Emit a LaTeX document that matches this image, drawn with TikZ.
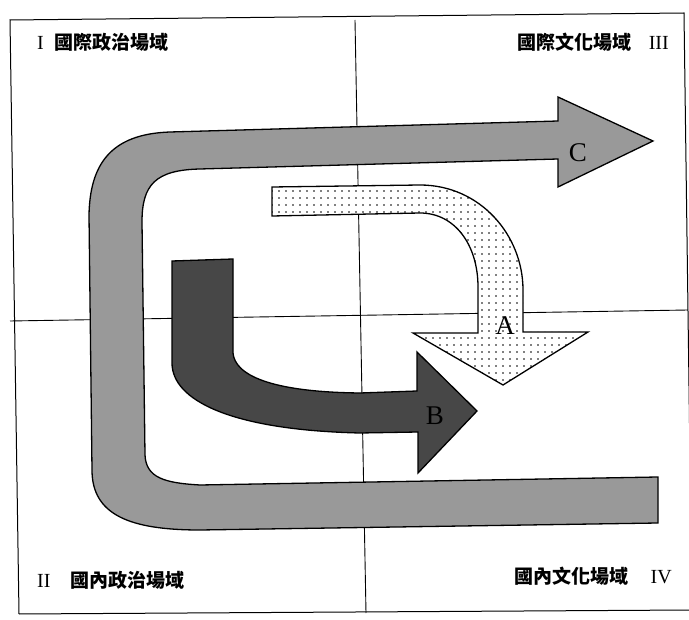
\documentclass[tikz,border=0pt]{standalone}
\usepackage{fontspec}
\newfontfamily\cjk{Noto Sans CJK TC}
\newfontfamily\serifL{Liberation Serif}
\usetikzlibrary{patterns.meta}
\begin{document}
\begin{tikzpicture}[x=1pt,y=-1pt,
  frameline/.style={line width=1pt},
  divline/.style={line width=0.9pt},
  arrowshape/.style={draw, line width=1.3pt, line join=miter},
  carrow/.style={arrowshape, fill=black!40},
  barrow/.style={arrowshape, fill=black!72},
  aarrow/.style={arrowshape, preaction={fill=white}, pattern={Dots[radius=1pt,distance=6.5pt]}},
  lbl/.style={font=\serifL\fontsize{27}{27}\selectfont, inner sep=0pt},
  quad/.style={inner sep=0pt, font=\fontsize{19}{21}\selectfont},
  roman/.style={}
]
\useasboundingbox (0,0) rectangle (689,620);
\fill[white] (0,0) rectangle (689,620);
% frame
\draw[frameline] (19,614) -- (10,20) -- (684,13) -- (692,610);
\draw[frameline] (19,614) -- (692,610);
% dividers
\draw[divline] (355,20) -- (366,613);
\draw[divline] (10,321) -- (688,310);
% arrow C
\path[carrow] (658,477) -- (200,485) .. controls (165,483) and (146,478) .. (145,455)
  -- (142,222) .. controls (142,185) and (155,170) .. (200,169)
  -- (558,159) -- (558,187) -- (653,141) -- (558,97) -- (558,121)
  -- (170,132) .. controls (110,134) and (90,165) .. (89,215)
  -- (92,470) .. controls (92,515) and (130,530) .. (200,530)
  -- (658,523) -- cycle;
% arrow A
\path[aarrow] (272,187) -- (420,185) .. controls (480,185) and (523,235) .. (523,290)
  -- (523,332) -- (588,332) -- (503,385) -- (413,333) -- (478,333)
  -- (478,287) .. controls (478,245) and (455,213) .. (420,213)
  -- (272,216) -- cycle;
% arrow B
\path[barrow] (172,261) -- (233,259) -- (233,353) .. controls (235,375) and (270,392) .. (360,393)
  -- (417,391) -- (417,352) -- (477,411) -- (418,473) -- (418,432)
  -- (360,433) .. controls (230,430) and (172,400) .. (172,363) -- cycle;
% labels
\node[lbl] (la) at (505,326) {A};
\node[lbl] (lb) at (435,416) {B};
\node[lbl] (lc) at (578,153) {C};
% quadrant titles
\node[quad, anchor=west] (q1) at (37,42) {{\serifL\fontsize{20}{22}\selectfont I}\hspace{11pt}{\cjk\bfseries 國際政治場域}};
\node[quad, anchor=east] (q3) at (669,42) {{\cjk\bfseries 國際文化場域}\hspace{17pt}{\serifL\fontsize{20}{22}\selectfont III}};
\node[quad, anchor=west] (q2) at (37,580) {{\serifL\fontsize{20}{22}\selectfont II}\hspace{20pt}{\cjk\bfseries 國內政治場域}};
\node[quad, anchor=east] (q4) at (672,576) {{\cjk\bfseries 國內文化場域}\hspace{22pt}{\serifL\fontsize{20}{22}\selectfont IV}};
\end{tikzpicture}
\end{document}
